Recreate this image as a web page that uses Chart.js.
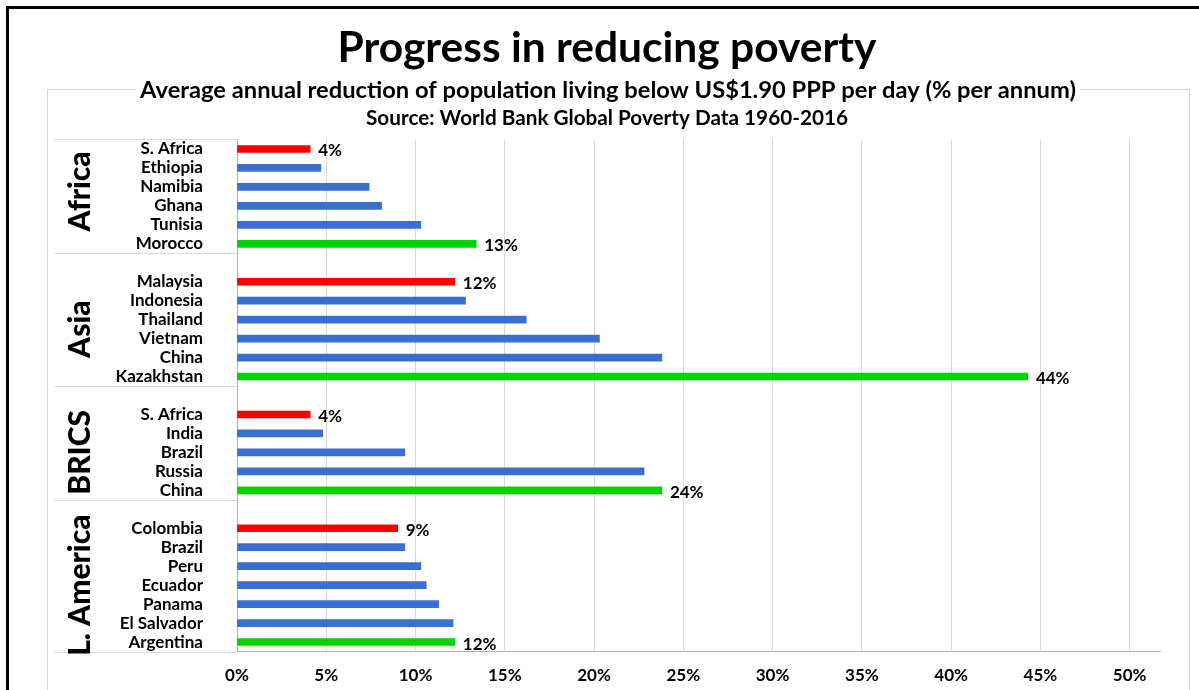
<!DOCTYPE html>
<html>
<head>
<meta charset="utf-8">
<script src="https://cdn.jsdelivr.net/npm/chart.js@4.4.1/dist/chart.umd.min.js"></script>
<style>
  html, body { margin: 0; padding: 0; background: #fff; }
  #wrap { width: 1199px; height: 690px; position: relative; }
</style>
</head>
<body>
<div id="wrap"><canvas id="poverty-chart"></canvas></div>
<script>
// groups, top to bottom
let groupNames = ["Africa", "Asia", "BRICS", "L. America"];

let africaCountries = ["S. Africa", "Ethiopia", "Namibia", "Ghana", "Tunisia", "Morocco"];
let africaValues = [4.1, 4.7, 7.4, 8.1, 10.3, 13.4];

let asiaCountries = ["Malaysia", "Indonesia", "Thailand", "Vietnam", "China", "Kazakhstan"];
let asiaValues = [12.2, 12.8, 16.2, 20.3, 23.8, 44.3];

let bricsCountries = ["S. Africa", "India", "Brazil", "Russia", "China"];
let bricsValues = [4.1, 4.8, 9.4, 22.8, 23.8];

let lamCountries = ["Colombia", "Brazil", "Peru", "Ecuador", "Panama", "El Salvador", "Argentina"];
let lamValues = [9.0, 9.4, 10.3, 10.6, 11.3, 12.1, 12.2];

let xTicks = [0, 5, 10, 15, 20, 25, 30, 35, 40, 45, 50];

const FONT = "Lato, 'Open Sans', sans-serif";

// build rows with a blank row between groups
let rowLabels = [];
let rowValues = [];
let rowColors = [];
let rowShowLabel = [];
let groupRows = [];

let groups = [
  [africaCountries, africaValues],
  [asiaCountries, asiaValues],
  [bricsCountries, bricsValues],
  [lamCountries, lamValues]
];

groups.forEach(function (g, gi) {
  if (gi > 0) {
    rowLabels.push("");
    rowValues.push(null);
    rowColors.push("#fff");
    rowShowLabel.push(false);
  }
  let first = rowLabels.length;
  g[0].forEach(function (name, i) {
    rowLabels.push(name);
    rowValues.push(g[1][i]);
    let last = i === g[0].length - 1;
    if (i === 0) rowColors.push("#FF0000");
    else if (last) rowColors.push("#00D400");
    else rowColors.push("#3A6FD2");
    rowShowLabel.push(i === 0 || last);
  });
  groupRows.push([first, rowLabels.length - 1]);
});

function fitText(ctx, text, cx, baseline, width, weight) {
  ctx.font = weight + " 100px " + FONT;
  let w = ctx.measureText(text).width;
  let size = 100 * width / w;
  ctx.font = weight + " " + size.toFixed(2) + "px " + FONT;
  ctx.fillText(text, cx, baseline);
}

// frame, titles, group boxes and value labels
const decorPlugin = {
  id: "decor",
  beforeDraw(chart) {
    const ctx = chart.ctx;
    ctx.save();
    // outer light border of chart
    ctx.strokeStyle = "#D9D9D9";
    ctx.lineWidth = 1;
    ctx.strokeRect(47.5, 89.5, 1142, 700);
    // black frame
    ctx.fillStyle = "#000";
    ctx.fillRect(6, 6, 1193, 3);
    ctx.fillRect(6, 6, 3, 684);

    ctx.textAlign = "center";
    ctx.textBaseline = "alphabetic";
    fitText(ctx, "Progress in reducing poverty", 607, 62, 539, "bold");
    // subtitle covers the border line
    ctx.fillStyle = "#fff";
    ctx.fillRect(136, 80, 944, 20);
    ctx.fillStyle = "#000";
    fitText(ctx, "Average annual reduction of population living below US$1.90 PPP per day (% per annum)", 608, 98, 936, "bold");
    fitText(ctx, "Source: World Bank Global Poverty Data 1960-2016", 607, 125, 482, "bold");
    ctx.restore();
  },
  afterDraw(chart) {
    const ctx = chart.ctx;
    const y = chart.scales.y;
    const step = y.getPixelForValue(1) - y.getPixelForValue(0);
    ctx.save();
    // separators in the category area
    ctx.strokeStyle = "#D9D9D9";
    ctx.lineWidth = 1;
    let lines = [y.getPixelForValue(0) - step / 2];
    groupRows.forEach(function (r) {
      lines.push(y.getPixelForValue(r[1]) + step / 2);
    });
    lines.forEach(function (ly) {
      ctx.beginPath();
      ctx.moveTo(55, Math.round(ly) + 0.5);
      ctx.lineTo(chart.chartArea.left, Math.round(ly) + 0.5);
      ctx.stroke();
    });
    // group names, rotated
    ctx.fillStyle = "#000";
    ctx.textAlign = "center";
    ctx.textBaseline = "middle";
    ctx.font = "900 30px " + FONT;
    groupRows.forEach(function (r, gi) {
      let cy = (y.getPixelForValue(r[0]) + y.getPixelForValue(r[1])) / 2;
      if (gi === 0) cy -= 5;
      ctx.save();
      ctx.translate(80, cy);
      ctx.rotate(-Math.PI / 2);
      ctx.fillText(groupNames[gi], 0, 0);
      ctx.restore();
    });
    // value labels for the first and last country of each group
    const meta = chart.getDatasetMeta(0);
    ctx.textAlign = "left";
    ctx.font = "bold 17px " + FONT;
    meta.data.forEach(function (bar, i) {
      if (!rowShowLabel[i]) return;
      ctx.fillText(Math.round(rowValues[i]) + "%", bar.x + 8, bar.y + 2);
    });
    ctx.restore();
  }
};

let ctx = document.getElementById("poverty-chart");
let povertyChart = new Chart(ctx, {
  type: "bar",
  data: {
    labels: rowLabels,
    datasets: [{
      data: rowValues,
      backgroundColor: rowColors,
      barThickness: 7,
      borderWidth: 0
    }]
  },
  options: {
    indexAxis: "y",
    responsive: true,
    maintainAspectRatio: false,
    animation: false,
    layout: { padding: { top: 139.5, right: 39, bottom: 0, left: 0 } },
    plugins: {
      legend: { display: false },
      tooltip: { enabled: false }
    },
    scales: {
      x: {
        min: 0,
        max: 51.7,
        afterBuildTicks: function (scale) {
          scale.ticks = xTicks.map(function (v) { return { value: v }; });
        },
        afterFit: function (scale) {
          scale.height = 38.5;
          scale.paddingLeft = 0;
          scale.paddingRight = 0;
        },
        grid: { color: "#D9D9D9", drawTicks: false },
        border: { color: "#B0B0B0", width: 1 },
        ticks: {
          padding: 14,
          color: "#000",
          font: { family: FONT, size: 17, weight: "bold" },
          callback: function (v) { return v + "%"; }
        }
      },
      y: {
        afterFit: function (scale) {
          scale.width = 237;
          scale.paddingTop = 0;
          scale.paddingBottom = 0;
        },
        grid: { display: false, drawTicks: false },
        border: { color: "#B0B0B0", width: 1 },
        ticks: {
          padding: 34,
          color: "#000",
          autoSkip: false,
          font: { family: FONT, size: 17, weight: "bold" }
        }
      }
    }
  },
  plugins: [decorPlugin]
});
</script>
</body>
</html>
